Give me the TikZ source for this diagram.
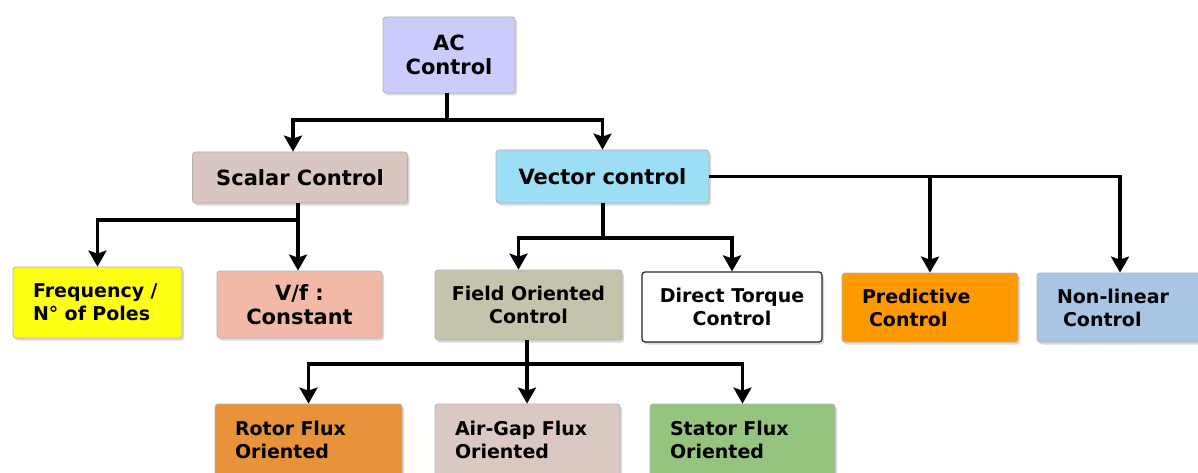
\documentclass[tikz,border=0pt]{standalone}
\usepackage{fontspec}
\setmainfont{DejaVu Sans}
\usetikzlibrary{arrows.meta, shadows}
\definecolor{acfill}{RGB}{204,204,252}
\definecolor{scalarfill}{RGB}{218,198,192}
\definecolor{vectorfill}{RGB}{155,222,246}
\definecolor{freqfill}{RGB}{255,255,20}
\definecolor{vffill}{RGB}{242,186,166}
\definecolor{focfill}{RGB}{197,195,172}
\definecolor{predfill}{RGB}{255,153,0}
\definecolor{nonlinfill}{RGB}{168,198,228}
\definecolor{rotorfill}{RGB}{232,146,58}
\definecolor{airgapfill}{RGB}{220,200,195}
\definecolor{statorfill}{RGB}{148,196,126}

\begin{document}
\begin{tikzpicture}[x=1pt, y=-1pt,
  ctrlbox/.style={draw=black!30, line width=.8pt, rounded corners=3pt,
    align=center, font=\fontsize{19}{23}\selectfont\bfseries,
    drop shadow={shadow xshift=2pt, shadow yshift=-2.5pt, opacity=.3}},
  bigtext/.style={font=\fontsize{21}{24}\selectfont\bfseries},
  leftbox/.style={ctrlbox, align=left, inner xsep=20pt},
  feed/.style={line width=3.2pt},
  feedarrow/.style={feed, -{Stealth[length=16pt, width=18pt, inset=3pt]}}]
  \useasboundingbox (0,0) rectangle (1198,473);

  % root
  \node[ctrlbox, bigtext, fill=acfill, minimum width=132pt, minimum height=76pt]
    (ac) at (449,55) {AC\\Control};

  % first level
  \node[ctrlbox, bigtext, fill=scalarfill, minimum width=215pt, minimum height=51pt]
    (scalar) at (300,177.5) {Scalar Control};
  \node[ctrlbox, bigtext, fill=vectorfill, minimum width=213pt, minimum height=53pt]
    (vector) at (602.5,176.5) {Vector control};

  % scalar branch
  \node[leftbox, fill=freqfill, text width=129pt, minimum height=71pt]
    (freq) at (97.5,302.5) {Frequency /\\N° of Poles};
  \node[ctrlbox, bigtext, fill=vffill, minimum width=165pt, minimum height=67pt]
    (vf) at (299.5,304.5) {V/f :\\Constant};

  % vector branch
  \node[ctrlbox, fill=focfill, minimum width=187pt, minimum height=70pt]
    (foc) at (528.5,305) {Field Oriented\\Control};
  \node[ctrlbox, fill=white, draw=black!85, line width=1.2pt,
    minimum width=180pt, minimum height=70pt]
    (dtc) at (732,307) {Direct Torque\\Control};
  \node[leftbox, fill=predfill, text width=136pt, minimum height=69pt]
    (pred) at (930,307.5) {Predictive\\\hspace*{7pt}Control};
  \node[leftbox, fill=nonlinfill, text width=126pt, minimum height=69pt]
    (nonlin) at (1120,307.5) {Non-linear\\\hspace*{6pt}Control};

  % field oriented branch
  \node[leftbox, fill=rotorfill, text width=147pt, minimum height=72pt]
    (rotor) at (308.5,440) {Rotor Flux\\Oriented};
  \node[leftbox, fill=airgapfill, text width=145pt, minimum height=72pt]
    (airgap) at (527.5,440) {Air-Gap Flux\\Oriented};
  \node[leftbox, fill=statorfill, text width=145pt, minimum height=72pt]
    (stator) at (742.5,440) {Stator Flux\\Oriented};

  % junctions
  \coordinate (acj) at (447,120);
  \coordinate (scj) at (298,220);
  \coordinate (vcj) at (603,238);
  \coordinate (fcj) at (527,364);

  % connectors
  \draw[feed] (ac.south -| acj) -- (acj);
  \draw[feedarrow] (acj) -| ([xshift=-7pt]scalar.north);
  \draw[feedarrow] (acj) -| (vector.north);

  \draw[feed] (scalar.south -| scj) -- (scj);
  \draw[feedarrow] (scj) -| (freq.north);
  \draw[feedarrow] (scj) -- (scj |- vf.north);

  \draw[feed] (vector.south -| vcj) -- (vcj);
  \draw[feedarrow] (vcj) -| ([xshift=-10pt]foc.north);
  \draw[feedarrow] (vcj) -| (dtc.north);
  \draw[feedarrow] (vector.east) -| (nonlin.north);
  \draw[feedarrow] (vector.east -| pred) -- (pred.north);

  \draw[feedarrow] (foc.south -| fcj) -- (fcj |- airgap.north);
  \draw[feedarrow] (fcj) -| (rotor.north);
  \draw[feedarrow] (fcj) -| (stator.north);
\end{tikzpicture}
\end{document}
